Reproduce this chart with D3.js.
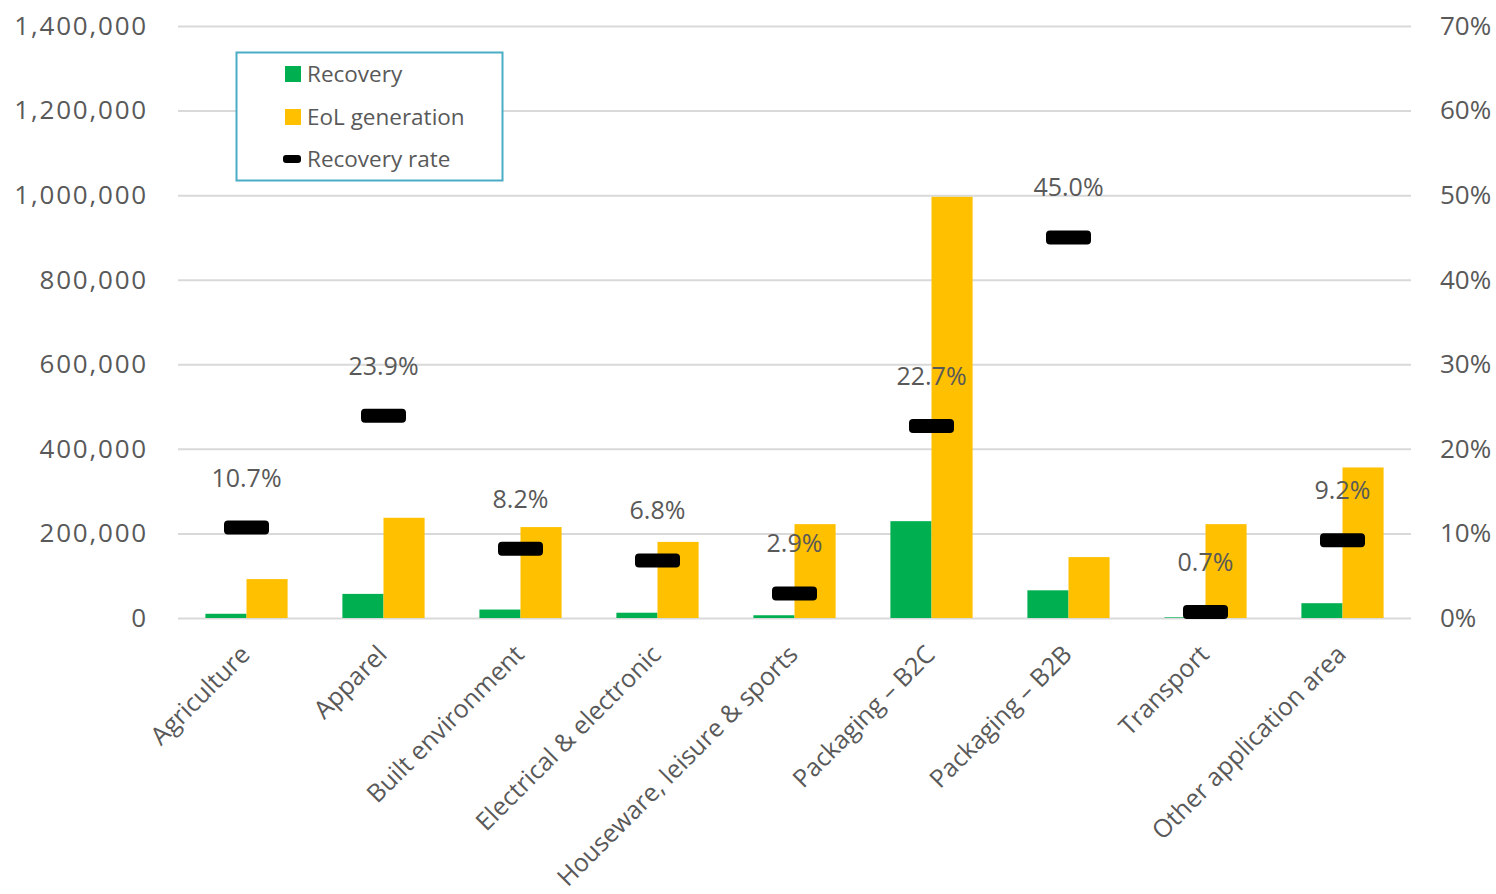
<!DOCTYPE html>
<html>
<head>
<meta charset="utf-8">
<script src="https://cdn.jsdelivr.net/npm/d3@7"></script>
<style>
  html, body { margin: 0; padding: 0; background: #fff; }
  svg { display: block; }
  text { font-family: "Open Sans", "Noto Sans", sans-serif; fill: #595959; }
</style>
</head>
<body>
<svg id="chart" width="1496" height="894"></svg>
<script>
const categories = ["Agriculture", "Apparel", "Built environment", "Electrical & electronic",
  "Houseware, leisure & sports", "Packaging – B2C", "Packaging – B2B", "Transport", "Other application area"];
const recovery = [10000, 57000, 20000, 12500, 6500, 229000, 65500, 1500, 35000];
const eolGeneration = [92000, 237000, 215000, 180000, 222000, 996000, 144000, 222000, 356000];
const recoveryRate = [10.7, 23.9, 8.2, 6.8, 2.9, 22.7, 45.0, 0.7, 9.2];
const leftTicks = [0, 200000, 400000, 600000, 800000, 1000000, 1200000, 1400000];
const rightTicks = [0, 10, 20, 30, 40, 50, 60, 70];
const seriesNames = ["Recovery", "EoL generation", "Recovery rate"];
const colors = { recovery: "#00b050", eol: "#ffc000", rate: "#000000" };

const svg = d3.select("#chart");
const plot = { left: 178, right: 1411, top: 26, bottom: 618 };

const x = d3.scaleBand().domain(categories).range([plot.left, plot.right]).paddingInner(0).paddingOuter(0);
const yL = d3.scaleLinear().domain([0, 1400000]).range([plot.bottom, plot.top]);
const yR = d3.scaleLinear().domain([0, 70]).range([plot.bottom, plot.top]);
const barW = x.bandwidth() * 0.3;

// gridlines
svg.append("g")
  .attr("transform", `translate(${plot.left},0)`)
  .call(d3.axisLeft(yL).tickValues(leftTicks).tickSize(-(plot.right - plot.left)).tickFormat(""))
  .call(g => g.select(".domain").remove())
  .call(g => g.selectAll("line").attr("stroke", "#d9d9d9").attr("stroke-width", 2));

// left axis labels
svg.append("g")
  .attr("transform", `translate(${plot.left},0)`)
  .call(d3.axisLeft(yL).tickValues(leftTicks).tickSize(0).tickPadding(30).tickFormat(d3.format(",")))
  .call(g => g.select(".domain").remove())
  .call(g => g.selectAll("text").attr("font-size", 26).attr("letter-spacing", 1.8)
    .style("font-family", '"Open Sans", sans-serif').attr("fill", "#595959"));

// right axis labels
svg.append("g")
  .attr("transform", `translate(${plot.right},0)`)
  .call(d3.axisRight(yR).tickValues(rightTicks).tickSize(0).tickPadding(29).tickFormat(d => d + "%"))
  .call(g => g.select(".domain").remove())
  .call(g => g.selectAll("text").attr("font-size", 26).style("font-family", '"Open Sans", sans-serif').attr("fill", "#595959"));

// bars
const cx = c => x(c) + x.bandwidth() / 2;
svg.append("g").selectAll("rect").data(categories).join("rect")
  .attr("x", c => cx(c) - barW)
  .attr("width", barW)
  .attr("y", (c, i) => yL(recovery[i]))
  .attr("height", (c, i) => yL(0) - yL(recovery[i]))
  .attr("fill", colors.recovery);
svg.append("g").selectAll("rect").data(categories).join("rect")
  .attr("x", c => cx(c))
  .attr("width", barW)
  .attr("y", (c, i) => yL(eolGeneration[i]))
  .attr("height", (c, i) => yL(0) - yL(eolGeneration[i]))
  .attr("fill", colors.eol);

// rate markers
const mW = 45, mH = 14;
svg.append("g").selectAll("rect").data(categories).join("rect")
  .attr("x", c => cx(c) - mW / 2)
  .attr("y", (c, i) => yR(recoveryRate[i]) - mH / 2)
  .attr("width", mW).attr("height", mH).attr("rx", 4)
  .attr("fill", colors.rate);

// rate labels
svg.append("g").selectAll("text").data(categories).join("text")
  .attr("x", c => cx(c))
  .attr("y", (c, i) => yR(recoveryRate[i]) - 41)
  .attr("text-anchor", "middle")
  .attr("font-size", 25)
  .text((c, i) => recoveryRate[i].toFixed(1) + "%");

// category labels
svg.append("g").selectAll("text").data(categories).join("text")
  .attr("transform", c => `translate(${cx(c) + 5},${plot.bottom + 38}) rotate(-45)`)
  .attr("text-anchor", "end")
  .attr("font-size", 25)
  .text(c => c);

// legend
const lg = svg.append("g");
lg.append("rect").attr("x", 236.5).attr("y", 52.5).attr("width", 266).attr("height", 128)
  .attr("fill", "#fff").attr("stroke", "#4bacc6").attr("stroke-width", 2);
const legendY = [74, 117, 159];
seriesNames.forEach((name, i) => {
  if (i < 2) {
    lg.append("rect").attr("x", 285).attr("y", legendY[i] - 8).attr("width", 16).attr("height", 16)
      .attr("fill", i === 0 ? colors.recovery : colors.eol);
  } else {
    lg.append("rect").attr("x", 283).attr("y", legendY[i] - 4).attr("width", 18).attr("height", 8).attr("rx", 3)
      .attr("fill", colors.rate);
  }
  lg.append("text").attr("x", 307).attr("y", legendY[i]).attr("dy", "0.35em")
    .attr("font-size", 22.5).text(name);
});
</script>
</body>
</html>
